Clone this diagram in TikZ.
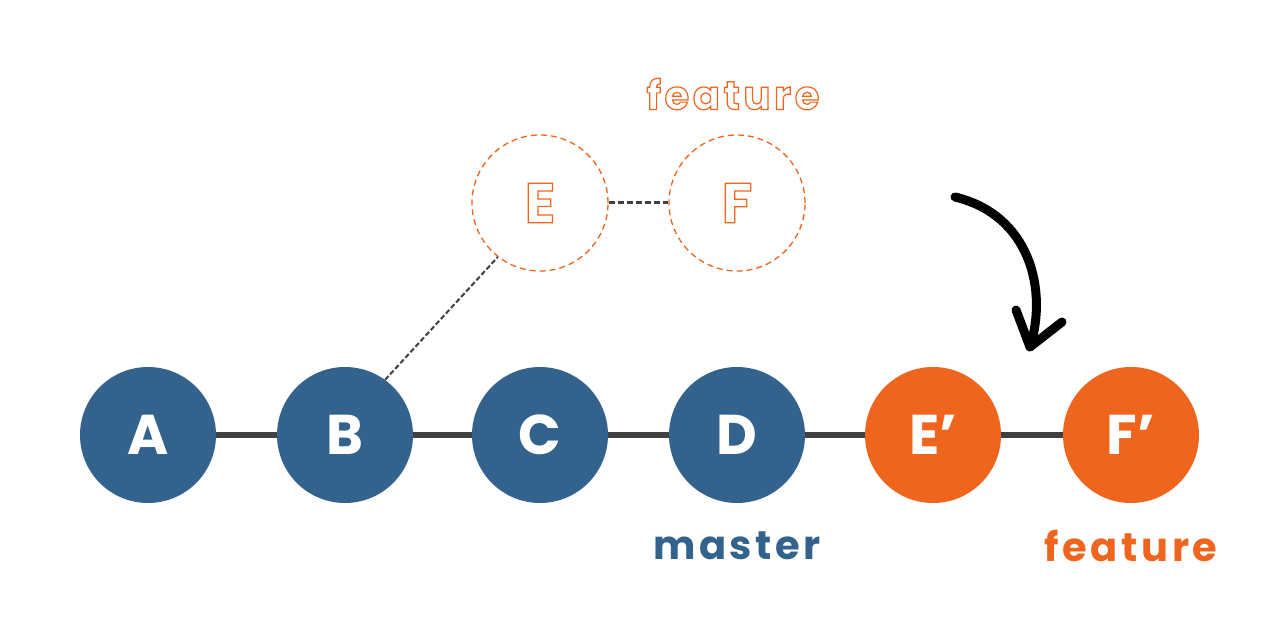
\documentclass[tikz,border=0pt]{standalone}
\usepackage{fontspec}
\setmainfont{Poppins}[BoldFont={* Bold}]
\newfontfamily\spacedfont{Poppins}[BoldFont={* Bold},LetterSpace=9]
\definecolor{gblue}{RGB}{51,99,140}
\definecolor{gorange}{RGB}{240,101,30}
\definecolor{gline}{RGB}{64,64,64}
\newcommand{\outlinetext}[1]{\special{pdf:literal direct 1 Tr 1.2 w}#1\special{pdf:literal direct 0 Tr}}
\tikzset{
  commit/.style={circle, minimum size=136pt, inner sep=0pt, text=white, font=\bfseries\fontsize{56}{56}\selectfont},
  bluec/.style={commit, fill=gblue},
  orangec/.style={commit, fill=gorange},
  ghost/.style={circle, minimum size=136pt, inner sep=0pt, draw=gorange, dash pattern=on 6pt off 4pt, line width=1.3pt, text=gorange, font=\bfseries\fontsize{56}{56}\selectfont},
  branch/.style={font=\spacedfont\bfseries\fontsize{40}{40}\selectfont},
  mainline/.style={gline, line width=6pt},
  dashline/.style={gline, line width=2pt, dash pattern=on 5pt off 2.5pt},
  arrowline/.style={black, line width=9pt, line cap=round, line join=round},
}
\begin{document}
\begin{tikzpicture}[x=1pt,y=1pt]
\fill[white] (0,0) rectangle (1280,640);
\useasboundingbox (0,0) rectangle (1280,640);
% main chain
\node[bluec] (A) at (148,205) {A};
\node[bluec] (B) at (345,205) {B};
\node[bluec] (C) at (540,205) {C};
\node[bluec] (D) at (737,205) {D};
\node[orangec] (E2) at (933,205) {E’};
\node[orangec] (F2) at (1131,205) {F’};
\draw[mainline] (A) -- (B);
\draw[mainline] (B) -- (C);
\draw[mainline] (C) -- (D);
\draw[mainline] (D) -- (E2);
\draw[mainline] (E2) -- (F2);
% ghost commits
\node[ghost] (E) at (540,437) {\outlinetext{E}};
\node[ghost] (F) at (737,437) {\outlinetext{F}};
\draw[dashline] (B.54) -- (E.232);
\draw[gline, line width=3pt, dash pattern=on 6pt off 3pt] (E) -- (F);
% labels
\node[branch, text=gblue] (master) at (737,94) {master};
\node[branch, text=gorange] (feat) at (1131,94) {feature};
\node[branch, text=gorange] (feat0) at (733,546) {\outlinetext{feature}};
% rebase arrow
\coordinate (a0) at (955,443);
\coordinate (a1) at (1030,293);
\coordinate (h1) at (1016,330);
\coordinate (h2) at (1062,318);
\draw[arrowline] (a0) .. controls (1030,425) and (1048,350) .. (a1);
\draw[arrowline] (h1) -- (a1) -- (h2);
\end{tikzpicture}
\end{document}
